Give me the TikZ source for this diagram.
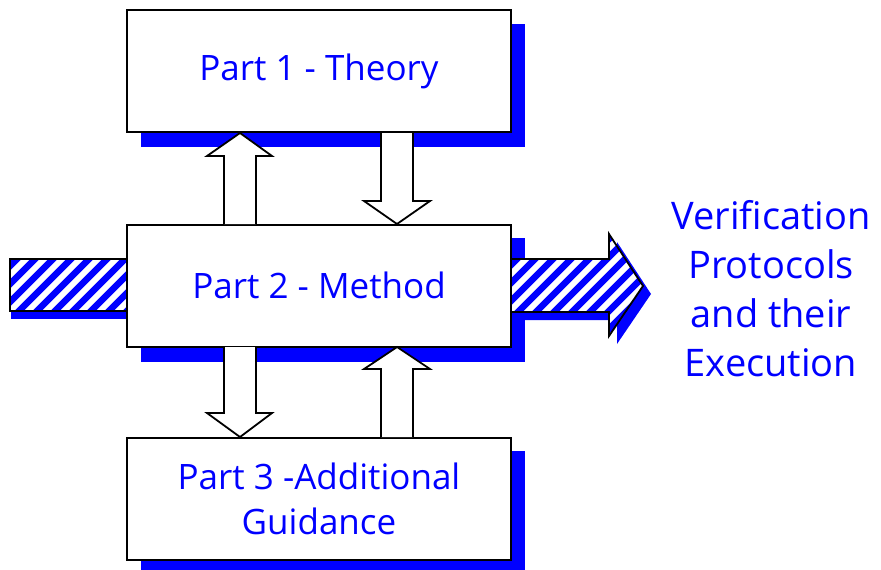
\documentclass[tikz,border=0pt]{standalone}
\usepackage{fontspec}
\setmainfont{Open Sans}
\definecolor{pblue}{RGB}{0,0,255}
\begin{document}
\begin{tikzpicture}[x=1pt,y=-1pt,
  box/.style={draw=black,line width=2pt,fill=white,minimum width=384pt,minimum height=122pt,inner sep=0pt,font=\fontsize{35}{45}\selectfont,text=pblue,align=center},
  blockarrow/.style={draw=black,line width=1.8pt,fill=white,line join=miter},
  outline/.style={draw=black,line width=1.8pt},
  stripe/.style={pblue,line width=6.5pt}]
\useasboundingbox (0,0) rectangle (881,570);
% shadows
\fill[pblue] (141,24) rectangle (525,147);
\fill[pblue] (141,238) rectangle (525,362);
\fill[pblue] (141,451) rectangle (525,575);
% left hatched bar
\fill[pblue] (11,267) rectangle (127,319);
\begin{scope}
\clip (10,259) rectangle (127,311);
\fill[white] (10,259) rectangle (127,311);
\foreach \i in {-10,...,20} {\draw[stripe] ({\i*18},330) -- ++(90,-90);}
\end{scope}
\draw[outline] (10,259) rectangle (127,311);
% right hatched arrow
\fill[pblue] (519,267) -- (617,267) -- (617,242) -- (651,294) -- (617,344) -- (617,320) -- (519,320) -- cycle;
\begin{scope}
\clip (511,259) -- (609,259) -- (609,234) -- (643,286) -- (609,336) -- (609,312) -- (511,312) -- cycle;
\fill[white] (505,230) rectangle (650,340);
\foreach \i in {-10,...,20} {\draw[stripe] ({380+\i*18},360) -- ++(140,-140);}
\end{scope}
\draw[outline,line join=miter] (511,259) -- (609,259) -- (609,234) -- (643,286) -- (609,336) -- (609,312) -- (511,312) -- cycle;
% boxes
\node[box] (p1) at (319,71) {Part 1 - Theory};
\node[box] (p2) at (319,285.5) {Part 2 - Method};
\node[box] (p3) at (319,498.5) {Part 3 -Additional\\Guidance};
% block arrows
\draw[blockarrow] (224,224) -- (224,156) -- (207,156) -- (240,133) -- (272,156) -- (256,156) -- (256,224);
\draw[blockarrow] (381,133) -- (381,201) -- (364,201) -- (397,224) -- (430,201) -- (413,201) -- (413,133);
\draw[blockarrow] (224,347) -- (224,413) -- (207,413) -- (240,437) -- (272,413) -- (256,413) -- (256,347);
\draw[blockarrow] (381,437) -- (381,369) -- (364,369) -- (397,347) -- (430,369) -- (413,369) -- (413,437);
% output text
\node[text=pblue,align=center,font=\fontsize{38}{49}\selectfont,inner sep=0pt] (out) at (771,289) {Verification\\Protocols\\and their\\Execution};
\end{tikzpicture}
\end{document}
